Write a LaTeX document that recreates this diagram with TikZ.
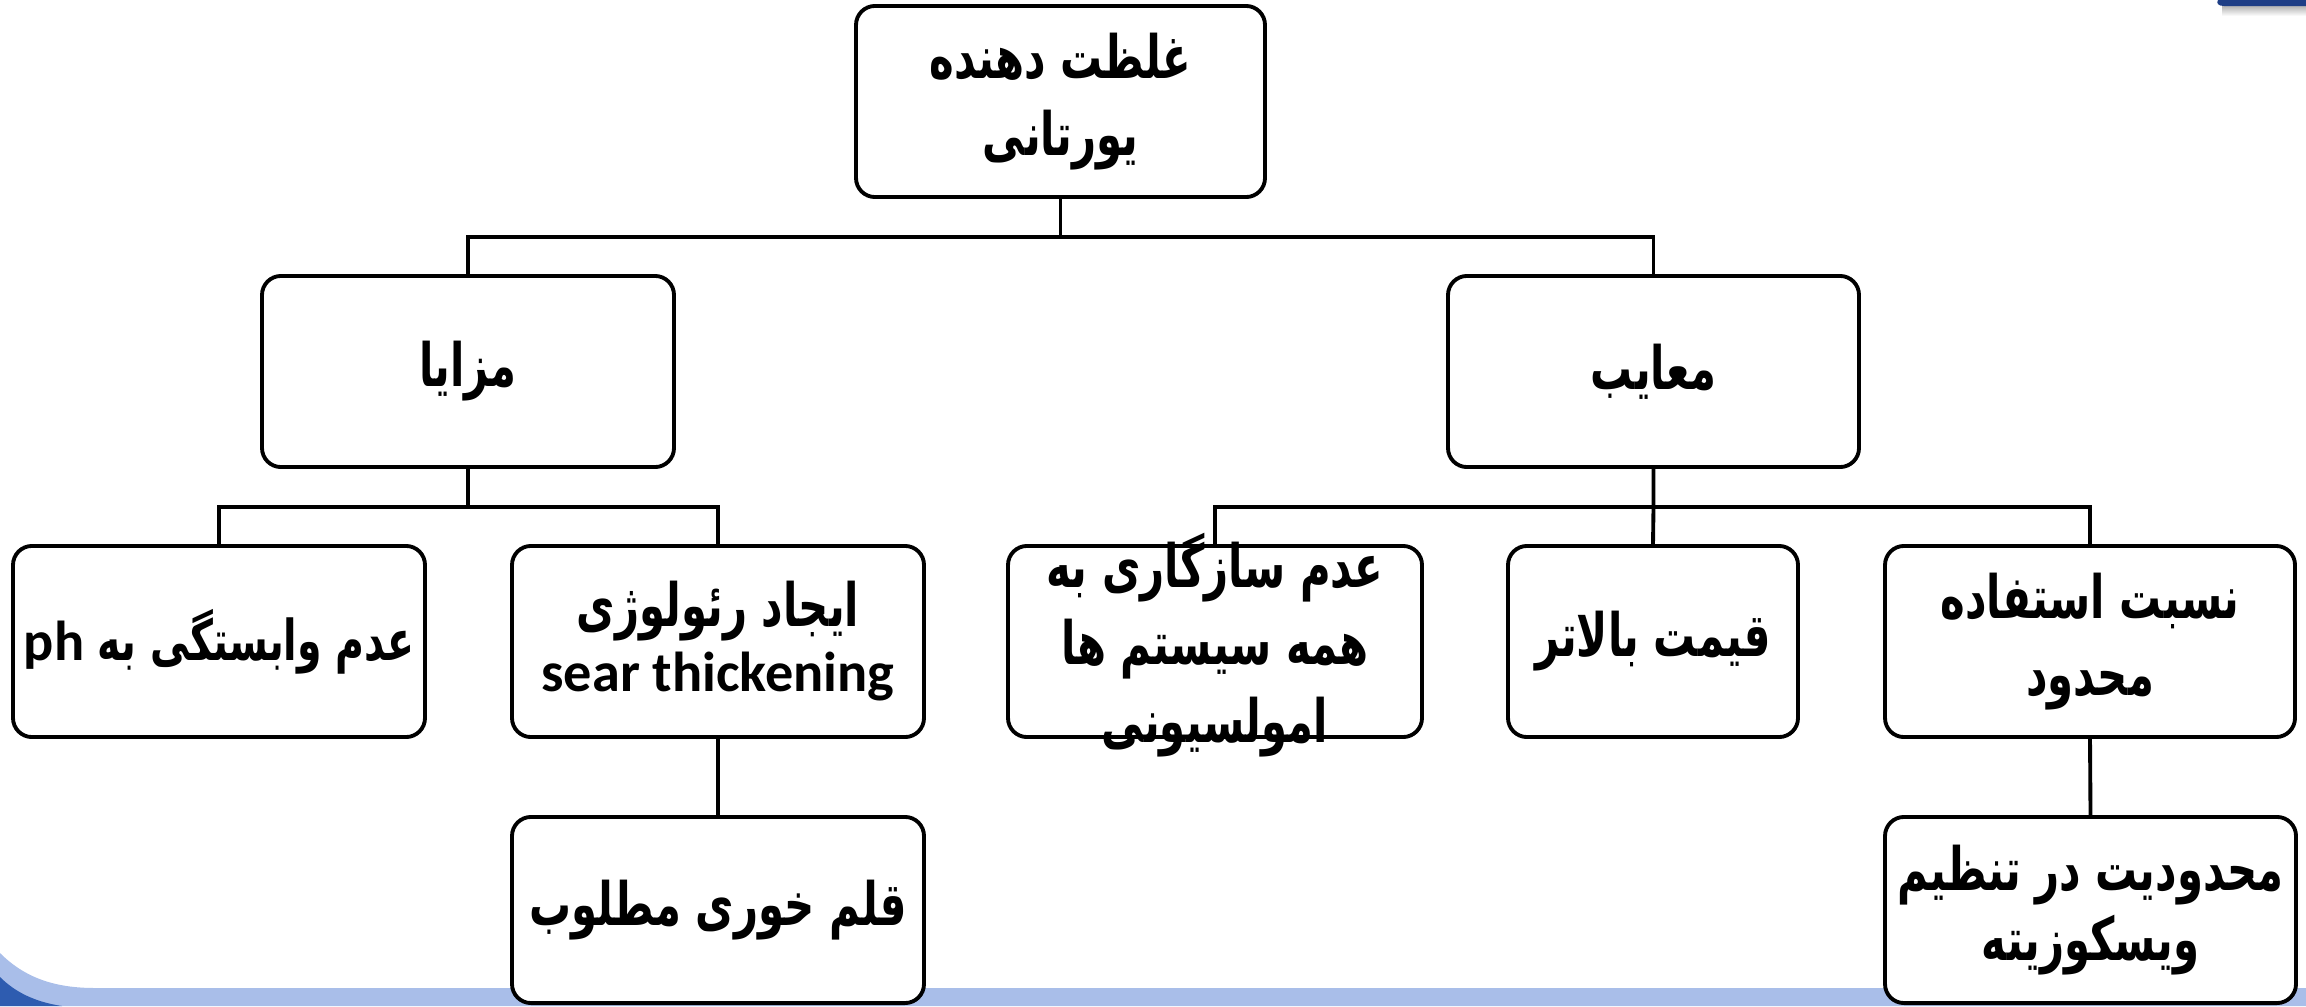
\documentclass[tikz,border=0pt]{standalone}
\usepackage{fontspec}
\TeXXeTstate=1
\newfontfamily\arabicfont[Script=Arabic,BoldFont=DejaVu Sans Bold,FakeStretch=0.7]{DejaVu Sans}
\newfontfamily\latinfont{Carlito}
\definecolor{bandblue}{HTML}{A9BEE9}
\definecolor{deepblue}{HTML}{2E5CB0}
\definecolor{navy}{HTML}{1E3E86}
\newcommand{\fa}[1]{\beginR #1\endR}
\begin{document}
\begin{tikzpicture}[x=0.01cm,y=-0.01cm,
  bx/.style={draw=black,line width=1.1pt,rounded corners=0.19cm,fill=white,
    minimum width=#1*0.01cm,minimum height=1.91cm,inner sep=0pt,align=center,
    font=\arabicfont\bfseries\fontsize{17}{22}\selectfont},
  bx/.default=412,
  link/.style={draw=black,line width=1.1pt}]
\useasboundingbox (0,0) rectangle (2306,1006);
% background decoration
\fill[bandblue] (0,953) .. controls (25,978) and (55,988) .. (95,988) -- (2306,988) -- (2306,1006) -- (0,1006) -- cycle;
\fill[deepblue] (0,977) .. controls (15,992) and (35,1002) .. (62,1006) -- (0,1006) -- cycle;
\shade[top color=gray!70,bottom color=white] (2222,4) rectangle (2306,16);
\fill[navy] (2218,0) -- (2306,0) -- (2306,6) -- (2224,6) .. controls (2218,6) and (2216,3) .. (2218,0) -- cycle;
% boxes
\node[bx=409] (top) at (1060.5,101.5) {\fa{غلظت دهنده}\\\fa{یورتانی}};
\node[bx=412] (mz) at (468,371.5) {\fa{مزایا}};
\node[bx=411] (mb) at (1653.5,371.5) {\fa{معایب}};
\node[bx=412,font=\arabicfont\bfseries\fontsize{16}{20}\selectfont] (b1) at (219,641.5) {\fa{عدم وابستگی به {\latinfont\fontsize{16}{18}\selectfont\beginL ph\endL}}};
\node[bx=412,font=\arabicfont\bfseries\fontsize{17}{18.5}\selectfont] (b2) at (718,641.5) {\fa{ایجاد رئولوژی}\\{\latinfont\bfseries\fontsize{16}{18.5}\selectfont sear thickening}};
\node[bx=414] (b3) at (1215,641.5) {};
\node[inner sep=0pt,align=center,font=\arabicfont\bfseries\fontsize{17}{22}\selectfont] (b3t) at (1215,645) {\fa{عدم سازگاری به}\\\fa{همه سیستم ها}\\\fa{امولسیونی}};
\node[bx=290] (b4) at (1653,641.5) {\fa{قیمت بالاتر}};
\node[bx=410] (b5) at (2090,641.5) {\fa{نسبت استفاده}\\\fa{محدود}};
\node[bx=412,minimum height=1.86cm] (b6) at (718,910) {\fa{قلم خوری مطلوب}};
\node[bx=411,minimum height=1.86cm,font=\arabicfont\bfseries\fontsize{17}{20}\selectfont] (b7) at (2090.5,910) {\fa{محدودیت در تنظیم}\\\fa{ویسکوزیته}};
% connectors
\coordinate (j1) at (1060.5,237);
\coordinate (j2) at (468,507);
\coordinate (j3) at (1653.5,507);
\draw[link] (top.south) -- (j1);
\draw[link] (mz.north) |- (j1) -| (mb.north);
\draw[link] (mz.south) -- (j2);
\draw[link] (b1.north) |- (j2) -| (b2.north);
\draw[link] (mb.south) -- (j3) -- (b4.north);
\draw[link] (b3.north) |- (j3) -| (b5.north);
\draw[link] (b2.south) -- (b6.north);
\draw[link] (b5.south) -- (b7.north);
\end{tikzpicture}
\end{document}
